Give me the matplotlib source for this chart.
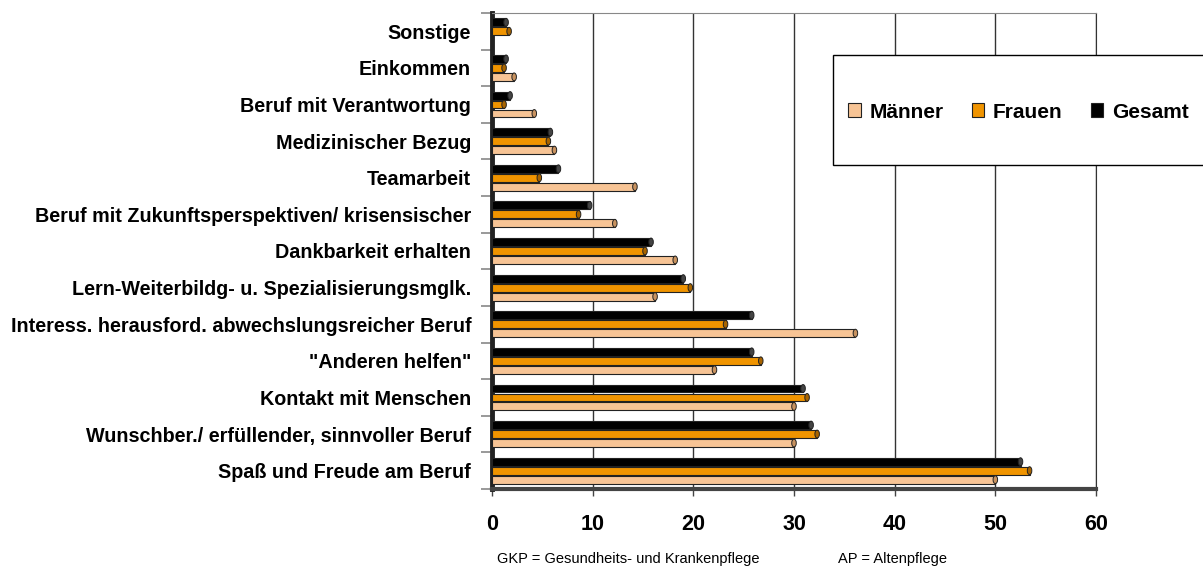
import matplotlib.pyplot as plt
import numpy as np
from matplotlib.patches import Ellipse, Rectangle

plt.rcParams['font.family'] = ['Liberation Sans', 'DejaVu Sans']

# categories from bottom to top
categories = [
    "Spaß und Freude am Beruf",
    "Wunschber./ erfüllender, sinnvoller Beruf",
    "Kontakt mit Menschen",
    "\"Anderen helfen\"",
    "Interess. herausford. abwechslungsreicher Beruf",
    "Lern-Weiterbildg- u. Spezialisierungsmglk.",
    "Dankbarkeit erhalten",
    "Beruf mit Zukunftsperspektiven/ krisensischer",
    "Teamarbeit",
    "Medizinischer Bezug",
    "Beruf mit Verantwortung",
    "Einkommen",
    "Sonstige",
]
maenner = [50.0, 30.0, 30.0, 22.1, 36.1, 16.2, 18.2, 12.2, 14.2, 6.2, 4.2, 2.2, 0.0]
frauen = [53.4, 32.3, 31.3, 26.7, 23.2, 19.7, 15.2, 8.6, 4.7, 5.6, 1.2, 1.2, 1.7]
gesamt = [52.5, 31.7, 30.9, 25.8, 25.8, 19.0, 15.8, 9.7, 6.6, 5.8, 1.8, 1.4, 1.4]
x_ticks = [0, 10, 20, 30, 40, 50, 60]

series = [
    ("Männer", maenner, "#F7C495", "#C8925F", -0.245),
    ("Frauen", frauen, "#F09400", "#A86400", 0.0),
    ("Gesamt", gesamt, "#000000", "#444444", 0.245),
]

fig = plt.figure(figsize=(12.03, 5.69), dpi=100)
ax = fig.add_axes([492 / 1203, 1 - 489 / 569, (1096 - 492) / 1203, (489 - 13) / 569])

y = np.arange(len(categories))
h = 0.215
handles = []
for name, vals, col, cap, off in series:
    bars = ax.barh(y + off, vals, height=h, color=col, edgecolor="#222222",
                   linewidth=0.8, label=name, zorder=3)
    handles.append(bars)
    # cylinder end caps
    for yi, v in zip(y, vals):
        if v > 0:
            ax.add_patch(Ellipse((v, yi + off), 0.45, h, facecolor=cap,
                                 edgecolor="#222222", linewidth=0.7, zorder=4))

ax.set_xlim(0, 60)
ax.set_ylim(-0.5, len(categories) - 0.5)
ax.set_xticks(x_ticks)
ax.set_xticklabels([str(t) for t in x_ticks], fontsize=15.5, fontweight="bold")
ax.tick_params(axis="x", length=5, width=1, color="#444444", pad=13)

ax.set_yticks(y)
ax.set_yticklabels(categories, fontsize=14.2, fontweight="bold")
ax.tick_params(axis="y", which="major", length=0, pad=15)
ax.set_yticks(np.arange(-0.5, len(categories)), minor=True)
ax.tick_params(axis="y", which="minor", length=8, width=1.2, color="#888888")

ax.grid(axis="x", color="#333333", linewidth=1, zorder=0)
ax.set_axisbelow(True)
ax.spines["left"].set_linewidth(3.5)
ax.spines["left"].set_color("#222222")
ax.spines["bottom"].set_linewidth(3)
ax.spines["bottom"].set_color("#444444")
ax.spines["top"].set_color("#888888")
ax.spines["right"].set_color("#333333")

# legend box reaching past the right edge
fig.patches.append(Rectangle((833 / 1203, 1 - 165 / 569), 0.4, 110 / 569,
                             transform=fig.transFigure, facecolor="white",
                             edgecolor="black", linewidth=1, zorder=5))
leg = fig.legend(handles=handles, loc="center left",
                 bbox_to_anchor=(848 / 1203, 1 - 112 / 569), ncol=3,
                 frameon=False, borderpad=0, borderaxespad=0,
                 handlelength=0.62, handleheight=0.62, handletextpad=0.4,
                 columnspacing=1.35, prop={"size": 15, "weight": "bold"})
leg.set_zorder(6)

fig.text(497 / 1203, 1 - 559 / 569, "GKP = Gesundheits- und Krankenpflege",
         fontsize=10.5, va="center", ha="left")
fig.text(838 / 1203, 1 - 559 / 569, "AP = Altenpflege",
         fontsize=10.5, va="center", ha="left")

fig.savefig("out.png", dpi=100)
plt.close(fig)
